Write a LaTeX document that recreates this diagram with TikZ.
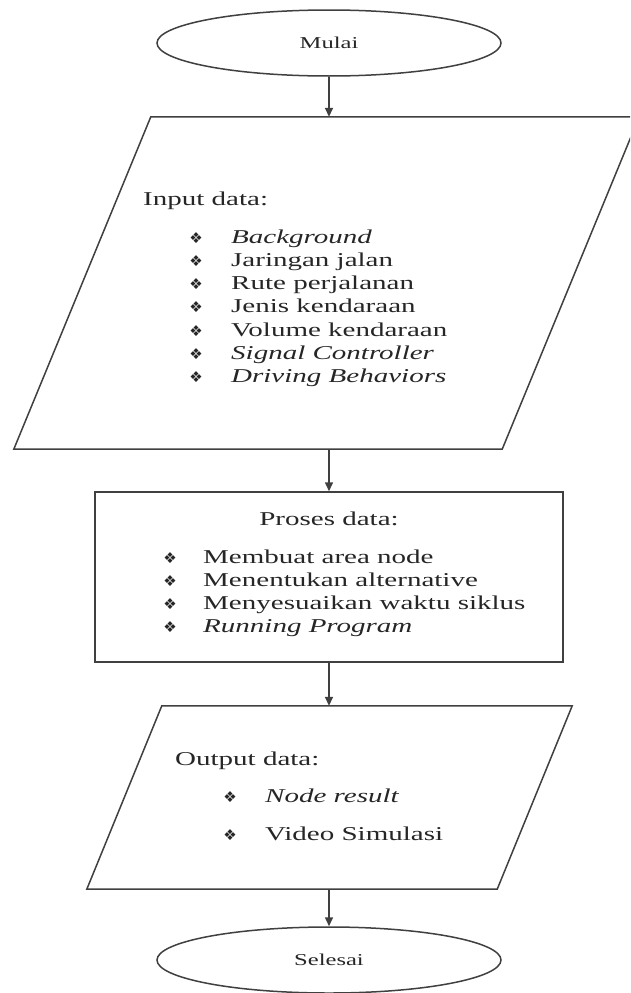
\documentclass[tikz,border=0pt]{standalone}
\usepackage{fontspec}
\setmainfont{Liberation Serif}[FakeStretch=1.48]
\newfontfamily\symfont{DejaVu Sans}
\usetikzlibrary{arrows.meta,shapes.geometric}
\begin{document}
\begin{tikzpicture}[x=1pt,y=-1pt,
  line/.style={draw=black!75,line width=1.5pt},
  arr/.style={draw=black!75,line width=1.5pt,-{Triangle[length=9pt,width=8pt]}},
  term/.style={ellipse,line,minimum width=344pt,minimum height=66pt,inner sep=0pt,
    font=\fontsize{16.6}{20}\selectfont,text=black!85},
  body/.style={rectangle,inner sep=0pt},
  txt/.style={anchor=base west,inner sep=0pt,font=\fontsize{19.6}{23}\selectfont,text=black!85},
  bul/.style={anchor=base,inner sep=0pt,font=\symfont\fontsize{15}{16}\selectfont,text=black!85}]
\clip (0,0) rectangle (630,993);
\fill[white] (0,0) rectangle (630,993);
% shapes
\node[term] (mulai) at (329,43) {Mulai};
\node[body,minimum width=488pt,minimum height=332pt] (inp) at (326.5,283) {};
\draw[line] ([xshift=68.5pt]inp.north west) -- ([xshift=68.5pt]inp.north east)
  -- ([xshift=-68.5pt]inp.south east) -- ([xshift=-68.5pt]inp.south west) -- cycle;
\node[rectangle,line,minimum width=468pt,minimum height=170pt,inner sep=0pt] (proc) at (329,577) {};
\node[body,minimum width=410pt,minimum height=183pt] (out) at (329.5,797.5) {};
\draw[line] ([xshift=37.5pt]out.north west) -- ([xshift=37.5pt]out.north east)
  -- ([xshift=-37.5pt]out.south east) -- ([xshift=-37.5pt]out.south west) -- cycle;
\node[term] (selesai) at (329,960) {Selesai};
% connectors
\draw[arr] (mulai.south) -- (mulai.south |- inp.north);
\draw[arr] (proc.north |- inp.south) -- (proc.north);
\draw[arr] (proc.south) -- (proc.south |- out.north);
\draw[arr] (selesai.north |- out.south) -- (selesai.north);
% input text
\node[txt] (inhead) at (143,205) {Input data:};
\foreach \t [count=\i] in {\textit{Background},Jaringan jalan,Rute perjalanan,Jenis kendaraan,Volume kendaraan,\textit{Signal Controller},\textit{Driving Behaviors}}{
  \node[bul] (inb\i) at (196,243+23.3*\i-23.3) {❖};
  \node[txt] (int\i) at (231,243+23.3*\i-23.3) {\t};
}
% process text
\node[txt,anchor=base] (prhead) at (329,525) {Proses data:};
\foreach \t [count=\i] in {Membuat area node,Menentukan alternative,Menyesuaikan waktu siklus,\textit{Running Program}}{
  \node[bul] (prb\i) at (170,563+23*\i-23) {❖};
  \node[txt] (prt\i) at (203,563+23*\i-23) {\t};
}
% output text
\node[txt] (outhead) at (175,765) {Output data:};
\node[bul] (oub1) at (230,802) {❖};
\node[txt] (out1) at (265,802) {\textit{Node result}};
\node[bul] (oub2) at (230,840) {❖};
\node[txt] (out2) at (265,840) {Video Simulasi};
\end{tikzpicture}
\end{document}
